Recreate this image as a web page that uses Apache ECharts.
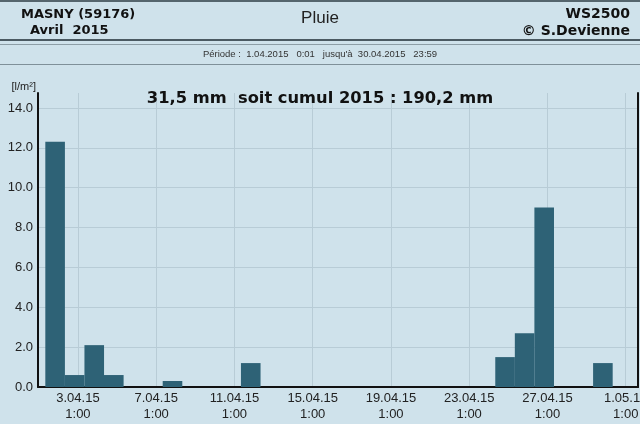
<!DOCTYPE html>
<html>
<head>
<meta charset="utf-8">
<script src="https://cdn.jsdelivr.net/npm/echarts@6/dist/echarts.min.js"></script>
<style>html,body{margin:0;padding:0;background:#cfe2eb;}#c{width:640px;height:424px;}</style>
</head>
<body>
<div id="c"></div>
<script>
// Daily rain, April 2015 (day 1..30), l/m²
const days = [1,2,3,4,5,6,7,8,9,10,11,12,13,14,15,16,17,18,19,20,21,22,23,24,25,26,27,28,29,30];
const rain = [12.3,0.6,2.1,0.6,0,0,0.3,0,0,0,1.2,0,0,0,0,0,0,0,0,0,0,0,0,1.5,2.7,9.0,0,0,1.2,0];
// x tick positions in days since 1.04.2015 0:00 (each at 1:00)
const xTickDays = [2 + 1/24, 6 + 1/24, 10 + 1/24, 14 + 1/24, 18 + 1/24, 22 + 1/24, 26 + 1/24, 30 + 1/24];
const xTickLabels = ['3.04.15\n1:00','7.04.15\n1:00','11.04.15\n1:00','15.04.15\n1:00','19.04.15\n1:00','23.04.15\n1:00','27.04.15\n1:00','1.05.15\n1:00'];
const yTicks = [0,2,4,6,8,10,12,14];
const station = 'MASNY (59176)';
const monthLabel = 'Avril  2015';
const chartName = 'Pluie';
const device = 'WS2500';
const author = '© S.Devienne';
const period = 'Période :  1.04.2015   0:01   jusqu\'à  30.04.2015   23:59';
const summary = '31,5 mm  soit cumul 2015 : 190,2 mm';

const BAR_SHIFT = -0.125; // bar centre relative to day number (days)
const chart = echarts.init(document.getElementById('c'), null, {renderer:'canvas'});
const font = 'Liberation Sans, Arial, sans-serif';
const boldFont = 'DejaVu Sans, Verdana, sans-serif';

chart.setOption({
  backgroundColor: '#cfe2eb',
  animation: false,
  title: {
    text: summary, left: 'center', top: 86,
    textStyle: {fontFamily: boldFont, fontWeight: 'bold', fontSize: 16.3, color: '#111'}
  },
  grid: {left: 38, right: 2, top: 93, bottom: 37, containLabel: false, outerBoundsMode: 'none'},
  xAxis: {
    type: 'value', min: 0, max: 30.67,
    axisLine: {show: true, onZero: false, lineStyle: {color: '#111', width: 2}},
    axisTick: {show: false, customValues: xTickDays},
    axisLabel: {
      customValues: xTickDays, fontFamily: font, fontSize: 13, color: '#222', lineHeight: 16, margin: 3,
      hideOverlap: false,
      formatter: function (v) {
        let best = 0;
        for (let i = 1; i < xTickDays.length; i++) if (Math.abs(xTickDays[i] - v) < Math.abs(xTickDays[best] - v)) best = i;
        return xTickLabels[best];
      }
    },
    splitLine: {show: true, lineStyle: {color: '#b8ccd6', width: 1}}
  },
  yAxis: [{
    type: 'value', min: 0, max: 14.75,
    name: '[l/m²]', nameLocation: 'end', nameGap: 1,
    nameTextStyle: {fontFamily: font, fontSize: 11, color: '#222', align: 'right', verticalAlign: 'bottom', padding: [0, 2, 0, 0]},
    axisLine: {show: true, lineStyle: {color: '#111', width: 2}},
    axisTick: {show: false, customValues: yTicks},
    axisLabel: {customValues: yTicks, fontFamily: font, fontSize: 13, color: '#222', margin: 5,
      formatter: v => v.toFixed(1)},
    splitLine: {show: true, lineStyle: {color: '#b8ccd6', width: 1}}
  }, {
    type: 'value', min: 0, max: 14.75, position: 'right',
    axisLine: {show: true, lineStyle: {color: '#111', width: 2}},
    axisTick: {show: false}, axisLabel: {show: false}, splitLine: {show: false}
  }],
  series: [{
    type: 'bar',
    data: days.map((d, i) => [d + BAR_SHIFT, rain[i]]),
    barWidth: 19.6,
    itemStyle: {color: '#2e6276'},
    z: 3
  }],
  graphic: [
    {type: 'rect', shape: {x: 0, y: 0, width: 640, height: 2}, style: {fill: '#55656d'}},
    {type: 'rect', shape: {x: 0, y: 39, width: 640, height: 2}, style: {fill: '#4b5a62'}},
    {type: 'rect', shape: {x: 0, y: 44, width: 640, height: 1}, style: {fill: '#8d9ea6'}},
    {type: 'rect', shape: {x: 0, y: 64, width: 640, height: 1}, style: {fill: '#7f9099'}},
    {type: 'text', left: 21, top: 8, style: {text: station, font: 'bold 13px ' + boldFont, fill: '#111'}},
    {type: 'text', left: 30, top: 24, style: {text: monthLabel, font: 'bold 13px ' + boldFont, fill: '#111'}},
    {type: 'text', left: 'center', top: 10, style: {text: chartName, font: '17px ' + font, fill: '#222'}},
    {type: 'text', right: 10, top: 7, style: {text: device, font: 'bold 14px ' + boldFont, fill: '#111', align: 'right'}},
    {type: 'text', right: 10, top: 24, style: {text: author, font: 'bold 14px ' + boldFont, fill: '#111', align: 'right'}},
    {type: 'text', left: 'center', top: 49, style: {text: period, font: '9.5px ' + font, fill: '#333'}}
  ]
});
</script>
</body>
</html>
